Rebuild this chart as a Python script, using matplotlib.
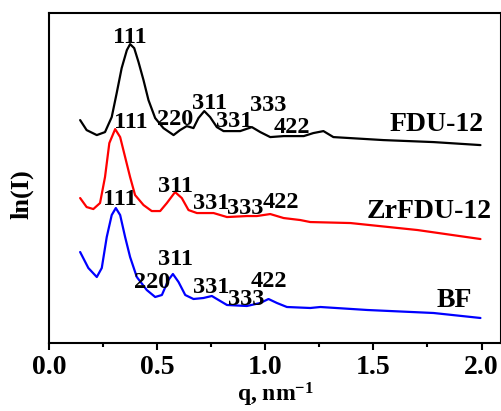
import matplotlib
matplotlib.use("Agg")
import matplotlib.pyplot as plt
from matplotlib.ticker import MultipleLocator, NullLocator

plt.rcParams['font.family'] = ['Liberation Serif', 'DejaVu Serif']
plt.rcParams['font.weight'] = 'bold'
plt.rcParams['mathtext.fontset'] = 'custom'
plt.rcParams['mathtext.rm'] = 'Liberation Serif:bold'
plt.rcParams['mathtext.bf'] = 'Liberation Serif:bold'
plt.rcParams['mathtext.default'] = 'bf'

# q (nm^-1) and ln(I) in arbitrary offset units
q_fdu = [0.144, 0.174, 0.221, 0.259, 0.290, 0.313, 0.336, 0.360, 0.375, 0.394,
         0.414, 0.437, 0.460, 0.491, 0.529, 0.576, 0.606, 0.637, 0.668, 0.691,
         0.718, 0.745, 0.776, 0.807, 0.884, 0.938, 0.977, 1.023, 1.085, 1.178,
         1.222, 1.269, 1.315, 1.546, 1.778, 1.995]
ln_fdu = [223, 213, 208, 211, 226, 250, 275, 293, 299, 295,
          281, 263, 243, 225, 215, 208, 213, 217, 215, 225,
          232, 226, 216, 212, 212, 216, 211, 206, 207, 207,
          210, 212, 206, 203, 201, 198]

q_zr = [0.144, 0.174, 0.205, 0.236, 0.259, 0.279, 0.306, 0.329, 0.352, 0.375,
        0.398, 0.437, 0.475, 0.514, 0.545, 0.583, 0.614, 0.645, 0.684, 0.761,
        0.823, 0.915, 0.961, 1.023, 1.085, 1.162, 1.208, 1.394, 1.704, 1.995]
ln_zr = [145, 136, 134, 140, 166, 200, 214, 206, 186, 166,
         148, 138, 132, 132, 140, 151, 145, 133, 130, 130,
         126, 127, 127, 129, 125, 123, 121, 120, 113, 104]

q_bf = [0.144, 0.182, 0.221, 0.244, 0.267, 0.290, 0.309, 0.329, 0.352, 0.375,
        0.406, 0.452, 0.491, 0.522, 0.552, 0.573, 0.599, 0.630, 0.668, 0.714,
        0.753, 0.784, 0.823, 0.915, 0.977, 1.015, 1.054, 1.100, 1.208, 1.255,
        1.472, 1.778, 1.995]
ln_bf = [91, 75, 66, 75, 106, 128, 135, 128, 106, 86,
         66, 53, 46, 48, 63, 69, 61, 48, 44, 45,
         47, 43, 38, 37, 40, 44, 40, 36, 35, 36,
         33, 30, 25]

series_names = ['FDU-12', 'ZrFDU-12', 'BF']
series_colors = ['black', 'red', 'blue']

# peak labels: (text, q, baseline y)
peaks_fdu = [('111', 0.373, 300), ('220', 0.583, 218), ('311', 0.742, 234),
             ('331', 0.857, 216), ('333', 1.012, 232), ('422', 1.125, 210)]
peaks_zr = [('111', 0.379, 215), ('311', 0.587, 151), ('331', 0.748, 134),
            ('333', 0.907, 129), ('422', 1.072, 135)]
peaks_bf = [('111', 0.326, 138), ('220', 0.476, 55), ('311', 0.587, 78),
            ('331', 0.748, 50), ('333', 0.912, 38), ('422', 1.019, 56)]

fig = plt.figure(figsize=(5.02, 4.11), dpi=100)
ax = fig.add_axes([0.0976, 0.1655, 0.9004, 0.8025])

for qs, ys, c in zip([q_fdu, q_zr, q_bf], [ln_fdu, ln_zr, ln_bf], series_colors):
    ax.plot(qs, ys, color=c, lw=1.6, solid_joinstyle='round', solid_capstyle='round')

for plist in [peaks_fdu, peaks_zr, peaks_bf]:
    for t, x, y in plist:
        ax.text(x, y, t, fontsize=17.5, fontweight='bold', ha='center', va='baseline')

ax.text(1.794, 212, series_names[0], fontsize=20, fontweight='bold', ha='center', va='baseline')
ax.text(1.759, 125, series_names[1], fontsize=20, fontweight='bold', ha='center', va='baseline')
ax.text(1.873, 36, series_names[2], fontsize=20, fontweight='bold', ha='center', va='baseline')

ax.set_xlim(0, 2.09)
ax.set_ylim(0, 330)
ax.xaxis.set_major_locator(MultipleLocator(0.5))
ax.xaxis.set_minor_locator(MultipleLocator(0.25))
ax.yaxis.set_major_locator(NullLocator())
ax.tick_params(axis='x', which='major', direction='out', length=5, width=1.5,
               labelsize=20, pad=4)
ax.tick_params(axis='x', which='minor', direction='out', length=3, width=1.5)
for lab in ax.get_xticklabels():
    lab.set_fontweight('bold')
for s in ax.spines.values():
    s.set_linewidth(1.5)

ax.set_xlabel('q, nm$^{-1}$', fontsize=17, fontweight='bold', labelpad=0)
ax.set_ylabel('ln(I)', fontsize=19, fontweight='bold')
ax.yaxis.set_label_coords(-0.035, 0.45)

fig.savefig('out.png', dpi=100)
